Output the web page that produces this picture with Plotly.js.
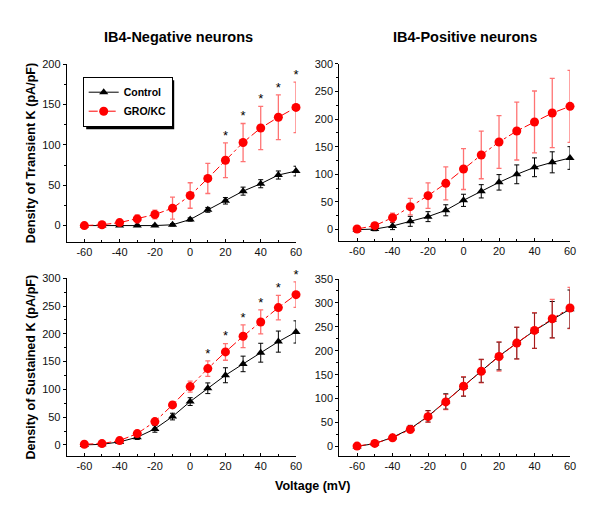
<!DOCTYPE html>
<html>
<head>
<meta charset="utf-8">
<script src="https://cdn.plot.ly/plotly-3.0.1.min.js"></script>
<style>html,body{margin:0;padding:0;background:#fff;}#chart{width:600px;height:505px;}</style>
</head>
<body>
<div id="chart"></div>
<script>
// ---- data ----
const voltage = [-60, -50, -40, -30, -20, -10, 0, 10, 20, 30, 40, 50, 60];
const xTickVals = [-60, -40, -20, 0, 20, 40, 60];
const xTickText = ['-60', '-40', '-20', '0', '20', '40', '60'];

// IB4-negative, transient K
const negTransCtrl    = [0, 0, 0, 0, 0, 1, 7.5, 19.5, 30.7, 42.7, 51.9, 62.7, 67.6];
const negTransCtrlErr = [1, 1, 1, 1, 1, 1.5, 2, 3, 4, 5, 5, 5, 6];
const negTransGro     = [0, 1, 3.7, 8.3, 13.7, 21.6, 37.3, 58.5, 81, 103, 121, 134.4, 146.5];
const negTransGroErr  = [1, 1.5, 2, 5, 5.5, 13.7, 15.8, 18.7, 21.6, 23.6, 26.8, 27.8, 31.3];
const negTransSig     = [0, 0, 0, 0, 0, 0, 0, 0, 1, 1, 1, 1, 1];

// IB4-positive, transient K
const posTransCtrl    = [0, 1, 6.6, 15, 23.5, 35, 53, 69.3, 85.5, 100, 112.7, 121.7, 129.5];
const posTransCtrlErr = [2, 3, 6.6, 9, 9, 10, 11, 12, 14, 17, 17, 19, 20.5];
const posTransGro     = [1.2, 7.2, 21.7, 41.6, 61.4, 83.7, 109.6, 135, 158.4, 178.3, 194.6, 210.8, 222.9];
const posTransGroErr  = [2, 3, 8, 15, 23, 29.8, 37, 43, 47.6, 52.4, 56, 62.7, 65];

// IB4-negative, sustained K
const negSustCtrl    = [0, 1, 5.4, 13.8, 28.8, 51, 78, 102, 125.4, 145.8, 166, 186, 203.4];
const negSustCtrlErr = [1, 2, 3, 4, 6, 6, 7, 9.6, 13.5, 14, 17, 19, 20];
const negSustGro     = [1.2, 2.4, 7.8, 20.4, 42, 72, 105, 137.4, 167.4, 195.6, 221.4, 247.2, 270.6];
const negSustGroErr  = [2, 2, 3, 3, 4, 5.4, 10, 14, 15, 20.4, 21.6, 22, 22.8];
const negSustSig     = [0, 0, 0, 0, 0, 0, 0, 1, 1, 1, 1, 1, 1];

// IB4-positive, sustained K
const posSustCtrl    = [0, 6, 19, 37, 63, 94, 125, 158, 189, 216, 242, 265, 287];
const posSustCtrlErr = [3, 4, 5, 7, 12, 16, 20, 24, 29, 33, 37, 38, 40];
const posSustGro     = [0.7, 6.3, 18, 35.6, 62.2, 93, 125.8, 157.2, 188, 216, 242.5, 267, 289.3];
const posSustGroErr  = [3, 4, 5, 7, 12, 16, 20, 24.5, 30.4, 33.5, 37.4, 40.5, 43];

// ---- build ----
const FONT = 'Liberation Sans, Arial, sans-serif';
function ctrlTrace(y, err, xa, ya, show) {
  return {
    x: voltage, y: y, xaxis: xa, yaxis: ya, name: 'Control', showlegend: show, legendgroup: 'c',
    type: 'scatter', mode: 'lines+markers', cliponaxis: false,
    line: {color: '#000', width: 1},
    marker: {symbol: 'triangle-up', size: 8, color: '#000'},
    error_y: {type: 'data', array: err, visible: true, color: '#000', thickness: 1, width: 2.5}
  };
}
function groTrace(y, err, xa, ya, show) {
  return {
    x: voltage, y: y, xaxis: xa, yaxis: ya, name: 'GRO/KC', showlegend: show, legendgroup: 'g',
    type: 'scatter', mode: 'lines+markers', cliponaxis: false,
    line: {color: '#ff0000', width: 1, dash: 'dashdot'},
    marker: {symbol: 'circle', size: 9, color: '#ff0000'},
    error_y: {type: 'data', array: err, visible: true, color: 'rgba(255,40,40,0.65)', thickness: 1.3, width: 2.5}
  };
}
function starTrace(y, err, sig, xa, ya) {
  const xs = [], ys = [];
  voltage.forEach((v, i) => { if (sig[i]) { xs.push(v); ys.push(y[i] + err[i]); } });
  return {
    x: xs, y: ys, xaxis: xa, yaxis: ya, showlegend: false, type: 'scatter', mode: 'text',
    text: xs.map(() => '*'), textposition: 'top center', cliponaxis: false,
    textfont: {family: FONT, size: 13, color: '#000'}, hoverinfo: 'skip'
  };
}

const data = [
  ctrlTrace(negTransCtrl, negTransCtrlErr, 'x', 'y', true),
  groTrace(negTransGro, negTransGroErr, 'x', 'y', true),
  starTrace(negTransGro, negTransGroErr, negTransSig, 'x', 'y'),
  ctrlTrace(posTransCtrl, posTransCtrlErr, 'x2', 'y2', false),
  groTrace(posTransGro, posTransGroErr, 'x2', 'y2', false),
  ctrlTrace(negSustCtrl, negSustCtrlErr, 'x3', 'y3', false),
  groTrace(negSustGro, negSustGroErr, 'x3', 'y3', false),
  starTrace(negSustGro, negSustGroErr, negSustSig, 'x3', 'y3'),
  ctrlTrace(posSustCtrl, posSustCtrlErr, 'x4', 'y4', false),
  groTrace(posSustGro, posSustGroErr, 'x4', 'y4', false)
];

const W = 600, H = 505;
const px = v => v / W, py = v => 1 - v / H;
function xAxis(domain, anchor) {
  return {
    domain: domain, anchor: anchor, range: [-70, 60], showgrid: false, zeroline: false,
    showline: true, linecolor: '#000', linewidth: 1,
    tickmode: 'array', tickvals: xTickVals, ticktext: xTickText,
    ticks: 'inside', ticklen: 3, tickcolor: '#000',
    minor: {dtick: 10, tick0: 0, ticks: 'inside', ticklen: 2, tickcolor: '#000'},
    tickfont: {family: FONT, size: 11, color: '#111'}
  };
}
function yAxis(domain, anchor, range, title) {
  const a = {
    domain: domain, anchor: anchor, range: range, showgrid: false, zeroline: false,
    showline: true, linecolor: '#000', linewidth: 1,
    tick0: 0, dtick: 50, ticks: 'outside', ticklen: 3, tickcolor: '#000',
    minor: {dtick: 25, tick0: 0, ticks: 'outside', ticklen: 2, tickcolor: '#000'},
    tickfont: {family: FONT, size: 11, color: '#111'}
  };
  if (title) a.title = {text: title, font: {family: FONT, size: 12.6, weight: 'bold', color: '#000'}, standoff: 3};
  return a;
}

// legend box placement (pixels from top-left) and drop-shadow offset
const LEG_X = 82.7, LEG_Y = 76.7, SHADOW = 3;

const layout = {
  width: W, height: H, margin: {l: 0, r: 0, t: 0, b: 0},
  paper_bgcolor: '#fff', plot_bgcolor: 'rgba(0,0,0,0)', showlegend: true,
  xaxis:  xAxis([px(66.7), px(296)], 'y'),
  yaxis:  yAxis([py(241.7), py(64.3)], 'x', [-20, 200], 'Density of Transient K (pA/pF)'),
  xaxis2: xAxis([px(339.3), px(570)], 'y2'),
  yaxis2: yAxis([py(240.7), py(63.7)], 'x2', [-20, 300], null),
  xaxis3: xAxis([px(66.7), px(296)], 'y3'),
  yaxis3: yAxis([py(456), py(278.3)], 'x3', [-20, 300], 'Density of Sustained K (pA/pF)'),
  xaxis4: xAxis([px(339.3), px(570)], 'y4'),
  yaxis4: yAxis([py(456), py(279)], 'x4', [-20, 350], null),
  legend: {
    x: px(LEG_X), y: py(LEG_Y), xanchor: 'left', yanchor: 'top',
    bgcolor: '#fff', bordercolor: '#000', borderwidth: 1,
    font: {family: FONT, size: 10.5, weight: 'bold', color: '#000'},
    itemwidth: 30, tracegroupgap: 0
  },
  shapes: [{
    type: 'rect', xref: 'paper', yref: 'paper', layer: 'above',
    x0: px(83.2 + SHADOW), x1: px(83.2 + SHADOW + 88), y0: py(77.2 + SHADOW + 49), y1: py(77.2 + SHADOW),
    fillcolor: '#000', line: {width: 0}
  }],
  annotations: [
    {text: 'IB4-Negative neurons', xref: 'paper', yref: 'paper', x: px(178), y: py(37),
     xanchor: 'center', yanchor: 'middle', showarrow: false,
     font: {family: FONT, size: 14.5, weight: 'bold', color: '#000'}},
    {text: 'IB4-Positive neurons', xref: 'paper', yref: 'paper', x: px(465), y: py(37),
     xanchor: 'center', yanchor: 'middle', showarrow: false,
     font: {family: FONT, size: 14.5, weight: 'bold', color: '#000'}},
    {text: 'Voltage (mV)', xref: 'paper', yref: 'paper', x: px(312), y: py(486),
     xanchor: 'center', yanchor: 'middle', showarrow: false,
     font: {family: FONT, size: 12.5, weight: 'bold', color: '#000'}}
  ]
};

Plotly.newPlot('chart', data, layout, {staticPlot: true, displayModeBar: false});
</script>
</body>
</html>
